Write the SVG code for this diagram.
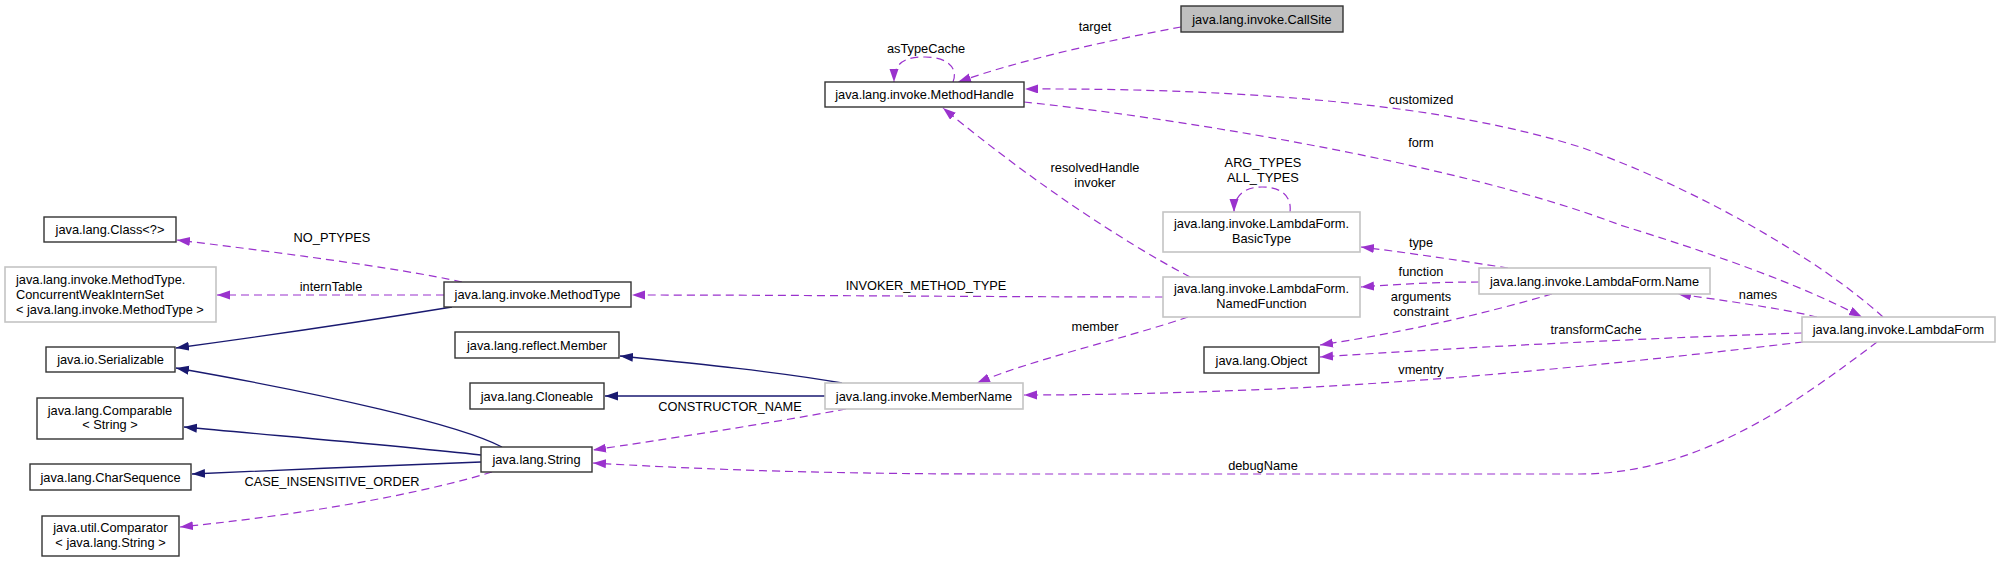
<svg xmlns="http://www.w3.org/2000/svg" width="2000" height="562" viewBox="0 0 2000 562">
<style>
text{font-family:"Liberation Sans",Arial,sans-serif;font-size:12.8px;fill:#000}
.n rect{fill:#fff;stroke:#333;stroke-width:1.4}
.g rect{fill:#fff;stroke:#c4c4c4;stroke-width:1.6}
.cur rect{fill:#bfbfbf;stroke:#333;stroke-width:1.4}
.c text{text-anchor:middle}
.u{fill:none;stroke:#9a32cd;stroke-width:1.2;stroke-dasharray:8,5}
.i{fill:none;stroke:#191970;stroke-width:1.3}
.lbl{text-anchor:middle}
</style>
<defs>
<marker id="au" markerUnits="userSpaceOnUse" markerWidth="14" markerHeight="10" refX="13" refY="4.5" orient="auto">
<path d="M0,0 L13,4.5 L0,9 z" fill="#9a32cd"/>
</marker>
<marker id="ai" markerUnits="userSpaceOnUse" markerWidth="14" markerHeight="10" refX="13" refY="4.5" orient="auto">
<path d="M0,0 L13,4.5 L0,9 z" fill="#191970"/>
</marker>
</defs>

<g id="connectors">
<path class="u" marker-end="url(#au)" d="M1181,27 C1110,40 1020,60 958,82"/>
<path class="u" marker-end="url(#au)" d="M953,82 C958,70 950,57 925,57 C905,57 894,62 894,82"/>
<path class="u" marker-end="url(#au)" d="M1883,317 C1820,260 1700,190 1583,148 C1450,105 1250,88 1025,89"/>
<path class="u" marker-end="url(#au)" d="M1024,102 C1150,115 1450,160 1620,225 C1740,262 1810,290 1862,317"/>
<path class="u" marker-end="url(#au)" d="M1817,317 C1780,308 1720,300 1678,294"/>
<path class="u" marker-end="url(#au)" d="M1508,268 C1470,262 1410,253 1361,247"/>
<path class="u" marker-end="url(#au)" d="M1479,282 C1440,282 1400,284 1361,287"/>
<path class="u" marker-end="url(#au)" d="M1552,294 C1480,315 1400,333 1320,345"/>
<path class="u" marker-end="url(#au)" d="M1802,333 C1650,338 1450,348 1320,357"/>
<path class="u" marker-end="url(#au)" d="M1803,342 C1650,360 1450,382 1250,390 C1150,394 1080,395 1024,395"/>
<path class="u" marker-end="url(#au)" d="M1877,342 C1800,400 1700,474 1580,474 L1000,474 C800,474 680,468 593,463"/>
<path class="u" marker-end="url(#au)" d="M462,282 C400,268 260,250 177,240"/>
<path class="u" marker-end="url(#au)" d="M444,295 L217,295"/>
<path class="u" marker-end="url(#au)" d="M1163,297 C1000,297 800,295 632,295"/>
<path class="u" marker-end="url(#au)" d="M1188,317 C1120,340 1030,360 977,383"/>
<path class="u" marker-end="url(#au)" d="M1190,277 C1120,240 1030,180 943,108"/>
<path class="u" marker-end="url(#au)" d="M1290,212 C1292,195 1280,187 1262,187 C1245,187 1234,195 1234,212"/>
<path class="u" marker-end="url(#au)" d="M846,409 C760,425 660,440 593,450"/>
<path class="u" marker-end="url(#au)" d="M492,472 C400,500 270,518 180,527"/>
<path class="i" marker-end="url(#ai)" d="M452,307 C360,322 250,338 176,348"/>
<path class="i" marker-end="url(#ai)" d="M502,447 C460,425 330,395 176,368"/>
<path class="i" marker-end="url(#ai)" d="M481,455 C400,446 280,436 184,427"/>
<path class="i" marker-end="url(#ai)" d="M481,462 C400,465 280,470 192,474"/>
<path class="i" marker-end="url(#ai)" d="M842,383 C780,372 700,364 620,356"/>
<path class="i" marker-end="url(#ai)" d="M826,396 L605,396"/>
<g class="lbl">
<text x="1095" y="31">target</text>
<text x="926" y="53">asTypeCache</text>
<text x="1421" y="104">customized</text>
<text x="1421" y="147">form</text>
<text x="1095" y="172">resolvedHandle</text>
<text x="1095" y="187">invoker</text>
<text x="1263" y="167">ARG_TYPES</text>
<text x="1263" y="182">ALL_TYPES</text>
<text x="1421" y="247">type</text>
<text x="1421" y="276">function</text>
<text x="1421" y="301">arguments</text>
<text x="1421" y="316">constraint</text>
<text x="1758" y="299">names</text>
<text x="1596" y="334">transformCache</text>
<text x="1421" y="374">vmentry</text>
<text x="1263" y="470">debugName</text>
<text x="1095" y="331">member</text>
<text x="926" y="290">INVOKER_METHOD_TYPE</text>
<text x="730" y="411">CONSTRUCTOR_NAME</text>
<text x="332" y="242">NO_PTYPES</text>
<text x="331" y="291">internTable</text>
<text x="332" y="486">CASE_INSENSITIVE_ORDER</text>
</g>
</g>

<g id="CallSite" class="cur c"><rect x="1181" y="6" width="162" height="26"/><text x="1262" y="23.5">java.lang.invoke.CallSite</text></g>
<g id="MethodHandle" class="n c"><rect x="825" y="82" width="199" height="25"/><text x="924.5" y="99">java.lang.invoke.MethodHandle</text></g>
<g id="Class" class="n c"><rect x="44" y="217" width="132" height="25"/><text x="110" y="234">java.lang.Class&lt;?&gt;</text></g>
<g id="ConcurrentWeakInternSet" class="g"><rect x="5" y="267" width="211" height="55"/><text x="16" y="283.5">java.lang.invoke.MethodType.</text><text x="16" y="298.5">ConcurrentWeakInternSet</text><text x="16" y="313.5">&lt; java.lang.invoke.MethodType &gt;</text></g>
<g id="MethodType" class="n c"><rect x="444" y="282" width="187" height="25"/><text x="537.5" y="299">java.lang.invoke.MethodType</text></g>
<g id="Serializable" class="n c"><rect x="46" y="347" width="129" height="25"/><text x="110.5" y="364">java.io.Serializable</text></g>
<g id="Member" class="n c"><rect x="455" y="332" width="164" height="26"/><text x="537" y="349.5">java.lang.reflect.Member</text></g>
<g id="Cloneable" class="n c"><rect x="470" y="383" width="134" height="26"/><text x="537" y="400.5">java.lang.Cloneable</text></g>
<g id="MemberName" class="g c"><rect x="825" y="383" width="198" height="26"/><text x="924" y="400.5">java.lang.invoke.MemberName</text></g>
<g id="Comparable" class="n c"><rect x="37" y="398" width="146" height="41"/><text x="110" y="415">java.lang.Comparable</text><text x="110" y="429">&lt; String &gt;</text></g>
<g id="String" class="n c"><rect x="481" y="447" width="111" height="25"/><text x="536.5" y="464">java.lang.String</text></g>
<g id="CharSequence" class="n c"><rect x="30" y="464" width="161" height="26"/><text x="110.5" y="481.5">java.lang.CharSequence</text></g>
<g id="Comparator" class="n c"><rect x="42" y="516" width="137" height="40"/><text x="110.5" y="532">java.util.Comparator</text><text x="110.5" y="547">&lt; java.lang.String &gt;</text></g>
<g id="BasicType" class="g c"><rect x="1163" y="212" width="197" height="40"/><text x="1261.5" y="228">java.lang.invoke.LambdaForm.</text><text x="1261.5" y="243">BasicType</text></g>
<g id="NamedFunction" class="g c"><rect x="1163" y="277" width="197" height="40"/><text x="1261.5" y="293">java.lang.invoke.LambdaForm.</text><text x="1261.5" y="308">NamedFunction</text></g>
<g id="Object" class="n c"><rect x="1204" y="347" width="115" height="26"/><text x="1261.5" y="364.5">java.lang.Object</text></g>
<g id="LambdaFormName" class="g c"><rect x="1479" y="268" width="231" height="26"/><text x="1594.5" y="285.5">java.lang.invoke.LambdaForm.Name</text></g>
<g id="LambdaForm" class="g c"><rect x="1802" y="317" width="193" height="25"/><text x="1898.5" y="334">java.lang.invoke.LambdaForm</text></g>
</svg>
